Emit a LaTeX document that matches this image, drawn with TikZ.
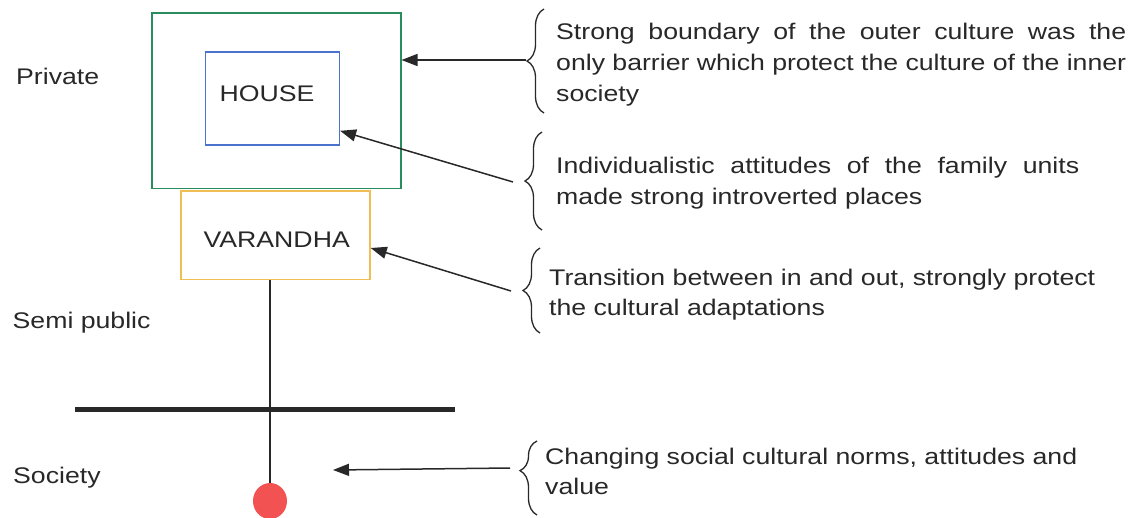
\documentclass[tikz,border=0pt]{standalone}
\usepackage{fontspec}
\setmainfont[FakeStretch=1.18]{Liberation Sans}
\usetikzlibrary{arrows.meta,decorations.pathreplacing,shapes.geometric}
\definecolor{txtgray}{RGB}{40,40,40}
\definecolor{outergreen}{RGB}{40,140,95}
\definecolor{houseblue}{RGB}{75,115,205}
\definecolor{varorange}{RGB}{240,190,85}
\definecolor{dotred}{RGB}{242,82,82}
\begin{document}
\begin{tikzpicture}[x=1pt,y=-1pt,
  every node/.style={font=\fontsize{22.6}{30}\selectfont, text=txtgray, inner sep=0pt},
  line/.style={anchor=base west},
  box/.style={draw, line width=1.6pt, minimum width=#1},
  arr/.style={draw=txtgray, line width=1.5pt, -{Triangle[length=16pt,width=12pt]}},
  curly/.style={draw=txtgray, line width=1.3pt,
    decorate, decoration={brace, amplitude=17pt, aspect=#1}},
  curly/.default=0.5]
\useasboundingbox (0,0) rectangle (1139,517);

% nested zones
\node[box=249pt, draw=outergreen, minimum height=175.6pt] (outer) at (276.2,100.5) {};
\node[box=134pt, draw=houseblue, minimum height=93.3pt] (house) at (272.3,98.35) {};
\node[anchor=base] (houselbl) at (267,101.7) {HOUSE};
\node[box=188.7pt, draw=varorange, minimum height=88.6pt] (varandha) at (275.6,235) {};
\node[anchor=base] (varlbl) at (276.7,247.3) {VARANDHA};

% society stem
\node[ellipse, fill=dotred, minimum width=34pt, minimum height=36pt] (dot) at (270,501) {};
\draw[line width=1.5pt, txtgray] (varandha.south -| dot.north) -- (dot.north);
\draw[line width=5pt, txtgray] (75,409) -- (455,409);

% zone labels
\node[line] (private) at (16,84.3) {Private};
\node[line] (semi) at (12.5,328) {Semi public};
\node[line] (society) at (13,483.3) {Society};

% braces
\draw[curly] (544,113) -- (544,9);
\draw[curly] (542,230) -- (542,132);
\draw[curly] (540,333) -- (540,248);
\draw[curly=0.6] (537,515) -- (537,441);

% connectors
\coordinate (t1) at (526,60);
\coordinate (t2) at (513,182);
\coordinate (t3) at (511,291);
\coordinate (t4) at (510,468);
\coordinate (h4) at (333,470);
\draw[arr] (t1) -- (t1 -| outer.east);
\draw[arr] (t2) -- ([yshift=15pt]house.south east);
\draw[arr] (t3) -- ([yshift=-13pt]varandha.east);
\draw[arr] (t4) -- (h4);

% notes
\node[line] (n1a) at (556,39) {\makebox[570pt][s]{Strong boundary of the outer culture was the}};
\node[line] (n1b) at (556,70) {\makebox[570pt][s]{only barrier which protect the culture of the inner}};
\node[line] (n1c) at (556,101) {society};

\node[line] (n2a) at (556,173.3) {\makebox[523pt][s]{Individualistic attitudes of the family units}};
\node[line] (n2b) at (556,204.3) {made strong introverted places};

\node[line] (n3a) at (549,285.7) {Transition between in and out, strongly protect};
\node[line] (n3b) at (549,315) {the cultural adaptations};

\node[line] (n4a) at (545,464) {\makebox[532pt][s]{Changing social cultural norms, attitudes and}};
\node[line] (n4b) at (545,494) {value};
\end{tikzpicture}
\end{document}
